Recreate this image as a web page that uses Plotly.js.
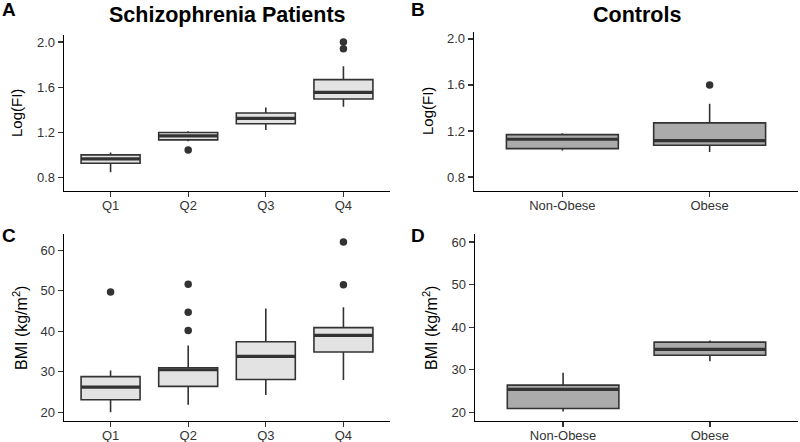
<!DOCTYPE html>
<html><head><meta charset="utf-8">
<script src="https://cdn.plot.ly/plotly-3.0.1.min.js"></script>
<style>html,body{margin:0;padding:0;background:#fff}#chart{width:800px;height:442px}</style>
</head><body><div id="chart"></div>
<script>
// Categories
const quartiles = ["Q1", "Q2", "Q3", "Q4"];
const groups = ["Non-Obese", "Obese"];

// Panel A: Log(FI), schizophrenia patients by quartile
const fiQ_q1 = [0.926, 1.133, 1.276, 1.495];
const fiQ_median = [0.964, 1.169, 1.323, 1.554];
const fiQ_q3 = [1.000, 1.198, 1.371, 1.667];
const fiQ_lower = [0.846, 1.120, 1.220, 1.427];
const fiQ_upper = [1.020, 1.210, 1.420, 1.785];
const fiQ_outCat = ["Q2", "Q4", "Q4"];
const fiQ_outVal = [1.044, 2.0, 1.94];

// Panel B: Log(FI), controls
const fiG_q1 = [1.046, 1.076];
const fiG_median = [1.128, 1.116];
const fiG_q3 = [1.168, 1.270];
const fiG_lower = [1.029, 1.017];
const fiG_upper = [1.180, 1.437];
const fiG_outCat = ["Obese"];
const fiG_outVal = [1.6];

// Panel C: BMI, schizophrenia patients by quartile
const bmiQ_q1 = [23.1, 26.4, 28.1, 34.9];
const bmiQ_median = [26.2, 30.5, 33.8, 39.0];
const bmiQ_q3 = [28.8, 31.0, 37.4, 40.9];
const bmiQ_lower = [20.0, 21.9, 24.3, 28.0];
const bmiQ_upper = [30.3, 36.5, 45.6, 45.9];
const bmiQ_outCat = ["Q1", "Q2", "Q2", "Q2", "Q4", "Q4"];
const bmiQ_outVal = [49.7, 51.6, 44.7, 40.2, 62.0, 51.5];

// Panel D: BMI, controls
const bmiG_q1 = [20.9, 33.4];
const bmiG_median = [25.4, 34.8];
const bmiG_q3 = [26.4, 36.5];
const bmiG_lower = [20.2, 32.0];
const bmiG_upper = [29.3, 36.9];

// Tick labels
const fiTicks = [0.8, 1.2, 1.6, 2.0];
const bmiTicks = [20, 30, 40, 50, 60];

const FONT = "Liberation Sans, Arial, Helvetica, sans-serif";
const EDGE = "#333333";
const LIGHT = "#e3e3e3";
const DARK = "#ababab";
const BOXW = 0.76;

const W = 800, H = 442;
const px = v => v / W;
const py = v => 1 - v / H;

const traces = [];
const layout = {
  width: W, height: H,
  margin: {l: 0, r: 0, t: 0, b: 0},
  paper_bgcolor: "#fff", plot_bgcolor: "#fff",
  showlegend: false,
  font: {family: FONT, color: "#000"},
  annotations: []
};

function addPanel(n, cats, q1, med, q3, lo, hi, outCat, outVal, fill, yTicks, yRange, dom, fmt) {
  const xa = "x" + (n === 1 ? "" : n), ya = "y" + (n === 1 ? "" : n);
  const idx = cats.map((c, i) => i);
  traces.push({
    type: "box", xaxis: xa, yaxis: ya, x: idx,
    q1: q1, median: med, q3: q3, lowerfence: lo, upperfence: hi,
    fillcolor: fill, line: {color: EDGE, width: 1.6},
    width: BOXW, whiskerwidth: 0, boxpoints: false, hoverinfo: "skip"
  });
  // thick median bars
  const mx = [], my = [];
  idx.forEach((i, k) => { mx.push(i - BOXW / 2, i + BOXW / 2, null); my.push(med[k], med[k], null); });
  traces.push({type: "scatter", mode: "lines", xaxis: xa, yaxis: ya, x: mx, y: my,
    line: {color: EDGE, width: 3.2}, hoverinfo: "skip"});
  if (outCat && outCat.length) {
    traces.push({type: "scatter", mode: "markers", xaxis: xa, yaxis: ya,
      x: outCat.map(c => cats.indexOf(c)), y: outVal,
      marker: {color: EDGE, size: 7.5, line: {width: 0}}, hoverinfo: "skip"});
  }
  const common = {
    showline: true, linecolor: "#000", linewidth: 1.4, mirror: false,
    ticks: "outside", ticklen: 5, tickwidth: 1.3, tickcolor: "#333",
    showgrid: false, zeroline: false, fixedrange: true,
    tickfont: {family: FONT, size: 13, color: "#333"}
  };
  layout["xaxis" + (n === 1 ? "" : n)] = Object.assign({}, common, {
    domain: [px(dom.l), px(dom.r)], anchor: ya,
    range: [-0.6, cats.length - 0.4],
    tickmode: "array", tickvals: idx, ticktext: cats,
    ticklabelstandoff: -3
  });
  layout["yaxis" + (n === 1 ? "" : n)] = Object.assign({}, common, {
    domain: [py(dom.b), py(dom.t)], anchor: xa,
    range: yRange, tickmode: "array", tickvals: yTicks,
    ticktext: yTicks.map(v => fmt ? v.toFixed(1) : String(v))
  });
}

addPanel(1, quartiles, fiQ_q1, fiQ_median, fiQ_q3, fiQ_lower, fiQ_upper, fiQ_outCat, fiQ_outVal,
  LIGHT, fiTicks, [0.68, 2.062], {l: 64, r: 390, t: 35, b: 191}, true);
addPanel(2, groups, fiG_q1, fiG_median, fiG_q3, fiG_lower, fiG_upper, fiG_outCat, fiG_outVal,
  DARK, fiTicks, [0.678, 2.06], {l: 474, r: 798, t: 32, b: 191}, true);
addPanel(3, quartiles, bmiQ_q1, bmiQ_median, bmiQ_q3, bmiQ_lower, bmiQ_upper, bmiQ_outCat, bmiQ_outVal,
  LIGHT, bmiTicks, [17.86, 64.0], {l: 64, r: 390, t: 234, b: 421}, false);
addPanel(4, groups, bmiG_q1, bmiG_median, bmiG_q3, bmiG_lower, bmiG_upper, [], [],
  DARK, bmiTicks, [17.96, 61.9], {l: 475, r: 798, t: 234, b: 421}, false);

function ann(text, x, y, opts) {
  layout.annotations.push(Object.assign({
    text: text, xref: "paper", yref: "paper", x: px(x), y: py(y),
    showarrow: false, xanchor: "center", yanchor: "middle",
    font: {family: FONT, size: 15, color: "#000"}
  }, opts || {}));
}
// Panel titles
ann("<b>Schizophrenia Patients</b>", 227, 15, {font: {family: FONT, size: 21.5, color: "#000"}});
ann("<b>Controls</b>", 637, 15, {font: {family: FONT, size: 21.5, color: "#000"}});
// Panel letters
ann("<b>A</b>", 0, 9, {xanchor: "left", font: {family: FONT, size: 19, color: "#000"}});
ann("<b>B</b>", 409, 9, {xanchor: "left", font: {family: FONT, size: 19, color: "#000"}});
ann("<b>C</b>", 0, 235, {xanchor: "left", font: {family: FONT, size: 19, color: "#000"}});
ann("<b>D</b>", 409, 235, {xanchor: "left", font: {family: FONT, size: 19, color: "#000"}});
// Axis titles
ann("Log(FI)", 17, 113, {textangle: -90});
ann("Log(FI)", 427, 111, {textangle: -90});
ann("BMI (kg/m<sup>2</sup>)", 20, 328, {textangle: -90, font: {family: FONT, size: 16, color: "#000"}});
ann("BMI (kg/m<sup>2</sup>)", 430, 328, {textangle: -90, font: {family: FONT, size: 16, color: "#000"}});

Plotly.newPlot("chart", traces, layout, {displayModeBar: false, staticPlot: true});
</script>
</body></html>
